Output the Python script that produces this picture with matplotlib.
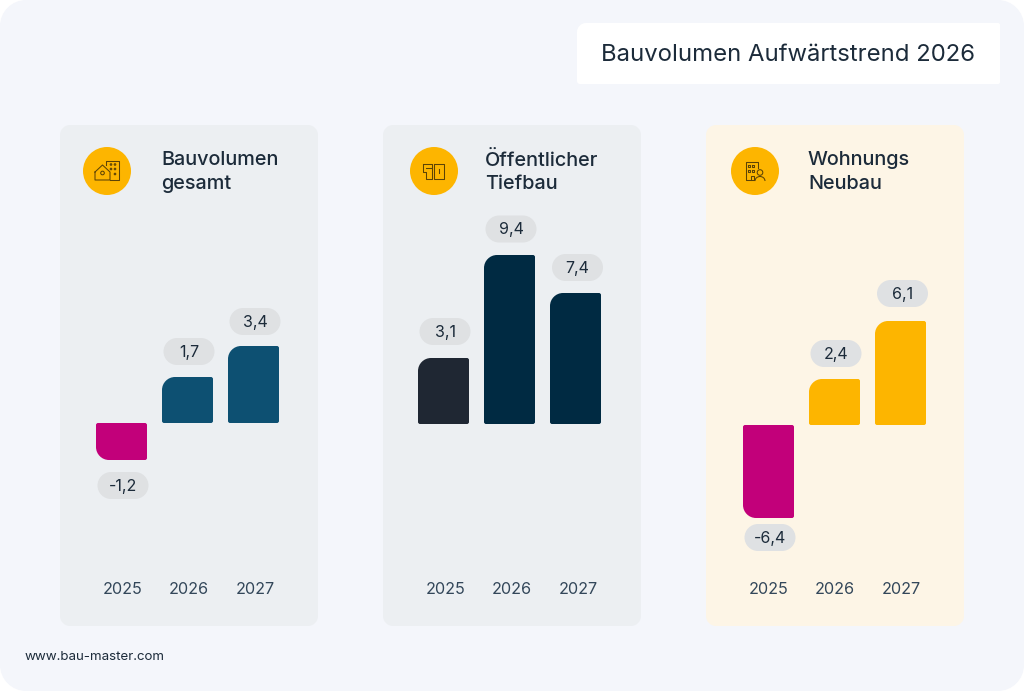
import matplotlib
matplotlib.use("Agg")
from matplotlib import pyplot as plt
from matplotlib.path import Path
from matplotlib.patches import PathPatch, Circle, Arc

plt.rcParams['font.family'] = ['Inter', 'DejaVu Sans']

# data: heights are read off the picture in px, the printed labels are not to scale
title = "Bauvolumen Aufwärtstrend 2026"
source = "www.bau-master.com"
years = ["2025", "2026", "2027"]
headings = ["Bauvolumen\ngesamt", "Öffentlicher\nTiefbau", "Wohnungs\nNeubau"]
labels_a = ["-1,2", "1,7", "3,4"]
labels_b = ["3,1", "9,4", "7,4"]
labels_c = ["-6,4", "2,4", "6,1"]
heights_a = [-37, 46, 77]
heights_b = [66, 169, 131]
heights_c = [-93, 46, 104]

TEXT = "#1c2b3a"
PINK = "#c2007a"
YELLOW = "#fdb500"
PILL = "#dfe1e3"
ICON_LINE = "#5c4306"

panels = [
    dict(x=60, base=423, bar_x=[96, 162, 228], bg="#eceff2", heights=heights_a,
         labels=labels_a, colors=[PINK, "#0d5072", "#0d5072"], head_x=161.5, icon=107,
         pill_x=[123, 189, 255], pill_y=[485.5, 351.5, 321.5], year_x=[122.5, 189, 255.5]),
    dict(x=383, base=424, bar_x=[418, 484, 550], bg="#eceff2", heights=heights_b,
         labels=labels_b, colors=["#1f2733", "#002a42", "#002a42"], head_x=485, icon=434,
         pill_x=[445, 511, 577.5], pill_y=[331.5, 229, 267.5], year_x=[445.5, 512, 578.5]),
    dict(x=706, base=425, bar_x=[743, 809, 875], bg="#fdf5e6", heights=heights_c,
         labels=labels_c, colors=[PINK, YELLOW, YELLOW], head_x=808, icon=755,
         pill_x=[770, 836, 902.5], pill_y=[537.5, 353.5, 293.5], year_x=[768.5, 835, 901.5]),
]


def round_rect(x0, y0, x1, y1, r):
    # r = radii for corners top-left, top-right, bottom-right, bottom-left (y axis points down)
    tl, tr, br, bl = r
    k = 0.45
    verts = [(x0 + tl, y0), (x1 - tr, y0),
             (x1 - tr * k, y0), (x1, y0 + tr * k), (x1, y0 + tr),
             (x1, y1 - br),
             (x1, y1 - br * k), (x1 - br * k, y1), (x1 - br, y1),
             (x0 + bl, y1),
             (x0 + bl * k, y1), (x0, y1 - bl * k), (x0, y1 - bl),
             (x0, y0 + tl),
             (x0, y0 + tl * k), (x0 + tl * k, y0), (x0 + tl, y0),
             (x0 + tl, y0)]
    codes = [Path.MOVETO, Path.LINETO,
             Path.CURVE4, Path.CURVE4, Path.CURVE4,
             Path.LINETO,
             Path.CURVE4, Path.CURVE4, Path.CURVE4,
             Path.LINETO,
             Path.CURVE4, Path.CURVE4, Path.CURVE4,
             Path.LINETO,
             Path.CURVE4, Path.CURVE4, Path.CURVE4,
             Path.CLOSEPOLY]
    return Path(verts, codes)


def add_shape(ax, x0, y0, x1, y1, r, color, z=1):
    ax.add_patch(PathPatch(round_rect(x0, y0, x1, y1, r), facecolor=color, edgecolor="none", zorder=z))


def outline(ax, cx, cy, pts, close=False):
    xs = [cx + p[0] for p in pts]
    ys = [cy + p[1] for p in pts]
    if close:
        xs.append(xs[0])
        ys.append(ys[0])
    ax.plot(xs, ys, color=ICON_LINE, lw=0.75, zorder=5, solid_joinstyle="round")


def ring(ax, cx, cy, r):
    ax.add_patch(Circle((cx, cy), r, facecolor="none", edgecolor=ICON_LINE, lw=0.75, zorder=5))


def house_icon(ax, cx, cy):
    outline(ax, cx, cy, [(-12, 1), (-4.5, -6), (3, 1), (3, 9), (-12, 9)], close=True)
    outline(ax, cx, cy, [(-1, -6), (-1, -10), (12, -10), (12, 9), (3, 9)])
    ring(ax, cx - 4.5, cy + 2, 1.8)
    for dx, dy in [(4, -6.5), (8, -6.5), (8, -2), (4, -2), (8, 3)]:
        ring(ax, cx + dx, cy + dy, 0.8)


def pipe_icon(ax, cx, cy):
    outline(ax, cx, cy, [(-11, -7), (-2.5, -7), (-2.5, 7.5), (-8, 7.5), (-8, 1), (-11, 1)], close=True)
    outline(ax, cx, cy, [(0, -7), (10, -7), (10, 7.5), (0, 7.5)], close=True)
    outline(ax, cx, cy, [(5, -2), (5, 2)])
    outline(ax, cx, cy, [(-8, -3.5), (-2.5, -3.5)])


def flat_icon(ax, cx, cy):
    outline(ax, cx, cy, [(3, -3), (3, -9), (-9, -9), (-9, 8.5), (-1, 8.5)])
    outline(ax, cx, cy, [(-4, 8.5), (-4, 5), (-1, 5), (-1, 8.5)])
    for dx, dy in [(-6, -5), (-2, -5), (-6, -0.5), (-2, -0.5)]:
        outline(ax, cx, cy, [(dx - 1, dy - 1), (dx + 1, dy - 1), (dx + 1, dy + 1), (dx - 1, dy + 1)], close=True)
    ring(ax, cx + 5, cy + 1.5, 2.8)
    ax.add_patch(Arc((cx + 5, cy + 10), 10, 9, theta1=180, theta2=360, edgecolor=ICON_LINE, lw=0.75, zorder=5))


icons = [house_icon, pipe_icon, flat_icon]

fig = plt.figure(figsize=(10.24, 6.91), dpi=100, facecolor="white")
ax = fig.add_axes([0, 0, 1, 1])
ax.set_xlim(0, 1024)
ax.set_ylim(691, 0)
ax.axis("off")

# page and title card
add_shape(ax, 0, 0, 1024, 691, (26, 26, 26, 26), "#f4f6fb", z=0)
add_shape(ax, 577, 23, 1000, 84, (9, 2, 2, 3), "white")
ax.text(601, 55, title, fontsize=17.2, color=TEXT, va="center", ha="left")
ax.text(25, 657, source, fontsize=9.6, color=TEXT, va="center", ha="left")

for p, heading, draw_icon in zip(panels, headings, icons):
    add_shape(ax, p["x"], 125, p["x"] + 258, 626, (10, 10, 10, 10), p["bg"])
    ax.add_patch(Circle((p["icon"], 171), 24, facecolor=YELLOW, edgecolor="none", zorder=2))
    draw_icon(ax, p["icon"], 171)
    ax.text(p["head_x"], 172, heading, fontsize=14.3, color=TEXT, va="center", ha="left",
            linespacing=1.4, fontweight="medium")

    for i in range(3):
        x = p["bar_x"][i]
        h = p["heights"][i]
        if h >= 0:
            add_shape(ax, x, p["base"] - h, x + 51, p["base"], (13, 2, 2, 2), p["colors"][i], z=3)
        else:
            add_shape(ax, x, p["base"], x + 51, p["base"] - h, (2, 2, 2, 13), p["colors"][i], z=3)
        px = p["pill_x"][i]
        py = p["pill_y"][i]
        add_shape(ax, px - 25.5, py - 13.5, px + 25.5, py + 13.5, (13.5, 13.5, 13.5, 13.5), PILL, z=3)
        ax.text(px, py + 0.5, p["labels"][i], fontsize=11.5, color=TEXT, va="center", ha="center", zorder=4)
        ax.text(p["year_x"][i], 590, years[i], fontsize=11.7, color="#33475a", va="center", ha="center")

fig.savefig("out.png", dpi=100, facecolor="white")
